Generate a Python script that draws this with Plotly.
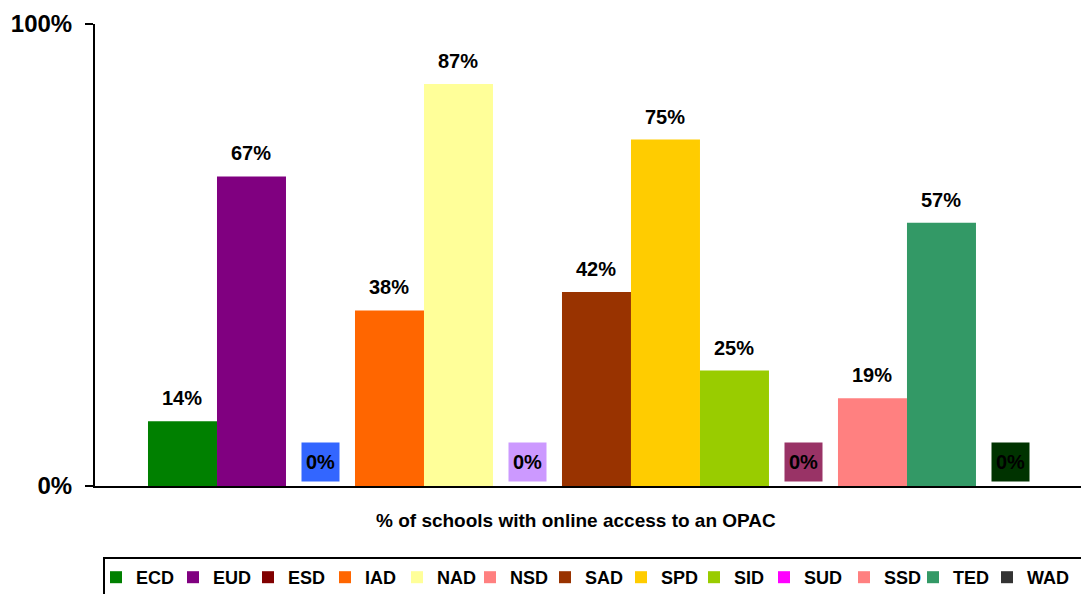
import plotly.graph_objects as go

series = ["ECD", "EUD", "ESD", "IAD", "NAD", "NSD", "SAD", "SPD", "SID", "SUD", "SSD", "TED", "WAD"]
values = [14, 67, 0, 38, 87, 0, 42, 75, 25, 0, 19, 57, 0]
colors = ["#008000", "#800080", "#800000", "#FF6600", "#FFFF99", "#FF8080", "#993300",
          "#FFCC00", "#99CC00", "#FF00FF", "#FF8080", "#339966", "#333333"]
zero_label_bg = {"ESD": "#3366FF", "NSD": "#CC99FF", "SUD": "#993366", "WAD": "#003300"}
x_title = "% of schools with online access to an OPAC"
y_ticks = [0, 100]
y_ticktext = ["0%", "100%"]

FONT = "Liberation Sans, Arial, sans-serif"
OFF = 8  # page body margin
W, H = 1089 - OFF, 594 - OFF
PLOT_TOP, PLOT_BOTTOM, PLOT_LEFT = 24 - OFF, 486 - OFF, 95 - OFF
PH = PLOT_BOTTOM - PLOT_TOP
PW = W - PLOT_LEFT

# layout: left edge (page px) of each legend swatch
legend_swatch_left = [113, 190, 265, 342, 414, 487, 562, 638, 711, 781, 861, 930, 1004]


def px_x(p):  # page pixel -> paper x
    return (p - OFF - PLOT_LEFT) / PW


def px_y(p):  # page pixel -> paper y
    return (PLOT_BOTTOM - (p - OFF)) / PH


fig = go.Figure()
legend_layout = {}
for i, (name, v, c) in enumerate(zip(series, values, colors)):
    key = "legend" if i == 0 else f"legend{i + 1}"
    fig.add_trace(go.Bar(x=[i], y=[v], name=f"<b>{name}</b>", marker=dict(color=c, line=dict(width=0)),
                         width=1.0, hoverinfo="skip", legend=key))
    legend_layout[key] = dict(orientation="h", yanchor="top", y=px_y(559), xanchor="left",
                              x=px_x(legend_swatch_left[i] - 17),
                              borderwidth=0, bgcolor="rgba(0,0,0,0)",
                              font=dict(family=FONT, size=18, color="black"),
                              itemwidth=30)

annotations = []
for i, (name, v) in enumerate(zip(series, values)):
    if v == 0:
        annotations.append(dict(x=i, y=0, xref="x", yref="y", text=f"<b>{v}%</b>",
                                showarrow=False, yanchor="bottom", yshift=4,
                                width=35, height=36, bgcolor=zero_label_bg.get(name, "white"),
                                font=dict(family=FONT, size=20, color="black")))
    else:
        annotations.append(dict(x=i, y=v, xref="x", yref="y", text=f"<b>{v}%</b>",
                                showarrow=False, yanchor="bottom", yshift=10,
                                font=dict(family=FONT, size=20, color="black")))

annotations.append(dict(x=px_x(576), y=px_y(520), xref="paper", yref="paper",
                        text=f"<b>{x_title}</b>", showarrow=False, yanchor="middle",
                        font=dict(family=FONT, size=19, color="black")))

fig.update_layout(
    width=W, height=H,
    margin=dict(l=PLOT_LEFT, r=0, t=PLOT_TOP, b=H - PLOT_BOTTOM, autoexpand=False),
    paper_bgcolor="white", plot_bgcolor="white",
    barmode="overlay",
    showlegend=True,
    annotations=annotations,
    shapes=[dict(type="rect", xref="paper", yref="paper",
                 x0=px_x(104), x1=px_x(1085), y0=px_y(558), y1=px_y(605),
                 line=dict(color="black", width=2), fillcolor="rgba(0,0,0,0)")],
    font=dict(family=FONT, color="black"),
    **legend_layout,
)
fig.update_xaxes(range=[-1.268, 13.138], showticklabels=False, showgrid=False, zeroline=False,
                 showline=True, linecolor="black", linewidth=2, ticks="", fixedrange=True)
fig.update_yaxes(range=[0, 100], tickvals=y_ticks, ticktext=[f"<b>{t}</b>" for t in y_ticktext],
                 showgrid=False, zeroline=False, showline=True, linecolor="black", linewidth=2,
                 ticks="outside", ticklen=8, tickwidth=2, tickcolor="black", ticklabelstandoff=8,
                 tickfont=dict(family=FONT, size=24, color="black"))

fig.write_html("out.html")
